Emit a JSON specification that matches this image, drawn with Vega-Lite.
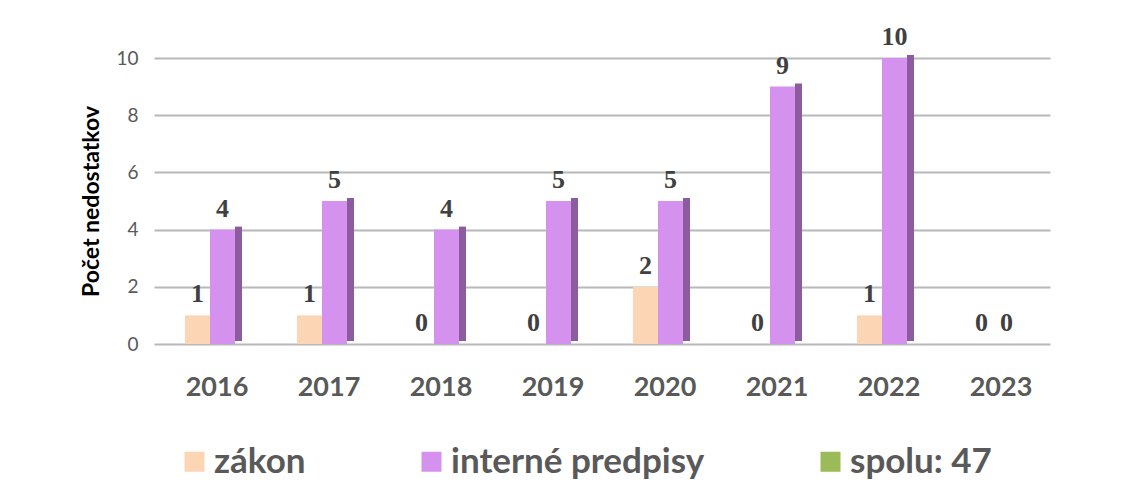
{
  "$schema": "https://vega.github.io/schema/vega-lite/v6.json",
  "width": 896,
  "height": 286,
  "autosize": {"type": "none"},
  "padding": {"left": 154, "top": 58, "right": 78, "bottom": 153},
  "background": "white",
  "config": {
    "view": {"stroke": null},
    "font": "Lato"
  },
  "data": {
    "values": [
      {"rok": "2016", "typ": "zákon", "pocet": 1},
      {"rok": "2016", "typ": "interné predpisy", "pocet": 4},
      {"rok": "2017", "typ": "zákon", "pocet": 1},
      {"rok": "2017", "typ": "interné predpisy", "pocet": 5},
      {"rok": "2018", "typ": "zákon", "pocet": 0},
      {"rok": "2018", "typ": "interné predpisy", "pocet": 4},
      {"rok": "2019", "typ": "zákon", "pocet": 0},
      {"rok": "2019", "typ": "interné predpisy", "pocet": 5},
      {"rok": "2020", "typ": "zákon", "pocet": 2},
      {"rok": "2020", "typ": "interné predpisy", "pocet": 5},
      {"rok": "2021", "typ": "zákon", "pocet": 0},
      {"rok": "2021", "typ": "interné predpisy", "pocet": 9},
      {"rok": "2022", "typ": "zákon", "pocet": 1},
      {"rok": "2022", "typ": "interné predpisy", "pocet": 10},
      {"rok": "2023", "typ": "zákon", "pocet": 0},
      {"rok": "2023", "typ": "interné predpisy", "pocet": 0}
    ]
  },
  "encoding": {
    "x": {
      "field": "rok",
      "type": "nominal",
      "scale": {"paddingInner": 0.554, "paddingOuter": 0.277},
      "axis": {
        "title": null,
        "labelAngle": 0,
        "labelFont": "Lato",
        "labelFontWeight": "bold",
        "labelFontSize": 27,
        "labelColor": "#595959",
        "labelPadding": 30,
        "labelOffset": 7,
        "domain": false,
        "ticks": false
      }
    },
    "y": {
      "field": "pocet",
      "type": "quantitative",
      "scale": {"domain": [0, 10]},
      "axis": {
        "values": [0, 2, 4, 6, 8, 10],
        "title": "Počet nedostatkov",
        "titleFont": "Lato",
        "titleFontWeight": "bold",
        "titleFontSize": 23,
        "titleColor": "#000000",
        "titlePadding": 12,
        "labelFont": "Lato",
        "labelFontSize": 19,
        "labelColor": "#595959",
        "labelPadding": 16,
        "domain": false,
        "ticks": false,
        "grid": true,
        "gridColor": "#B8B8B8",
        "gridWidth": 2
      }
    }
  },
  "layer": [
    {
      "mark": {"type": "bar"},
      "encoding": {
        "xOffset": {"field": "typ", "type": "nominal", "scale": {"domain": ["zákon", "interné predpisy"], "padding": 0}},
        "color": {
          "field": "typ",
          "type": "nominal",
          "scale": {
            "domain": ["zákon", "interné predpisy", "spolu: 47"],
            "range": ["#FCD5B4", "#D492EE", "#9BBB59"]
          },
          "legend": {
            "title": null,
            "orient": "none",
            "legendX": 23,
            "legendY": 386,
            "direction": "horizontal",
            "symbolType": "square",
            "symbolSize": 400,
            "symbolStrokeWidth": 0,
            "symbolOpacity": 1,
            "labelFont": "Lato",
            "labelFontWeight": "bold",
            "labelFontSize": 35,
            "labelColor": "#595959",
            "labelOffset": 2,
            "columnPadding": 108,
            "labelLimit": 400,
            "padding": 0
          }
        }
      }
    },
    {
      "transform": [{"filter": "datum.typ === 'interné predpisy' && datum.pocet > 0"}],
      "mark": {"type": "bar", "color": "#8C5C9E", "width": 7, "xOffset": 28.5, "yOffset": -3}
    },
    {
      "mark": {
        "type": "text",
        "baseline": "bottom",
        "dy": -8,
        "font": "Liberation Serif",
        "fontWeight": "bold",
        "fontSize": 26,
        "color": "#404040"
      },
      "encoding": {
        "xOffset": {"field": "typ", "type": "nominal"},
        "text": {"field": "pocet", "type": "quantitative"}
      }
    }
  ]
}
